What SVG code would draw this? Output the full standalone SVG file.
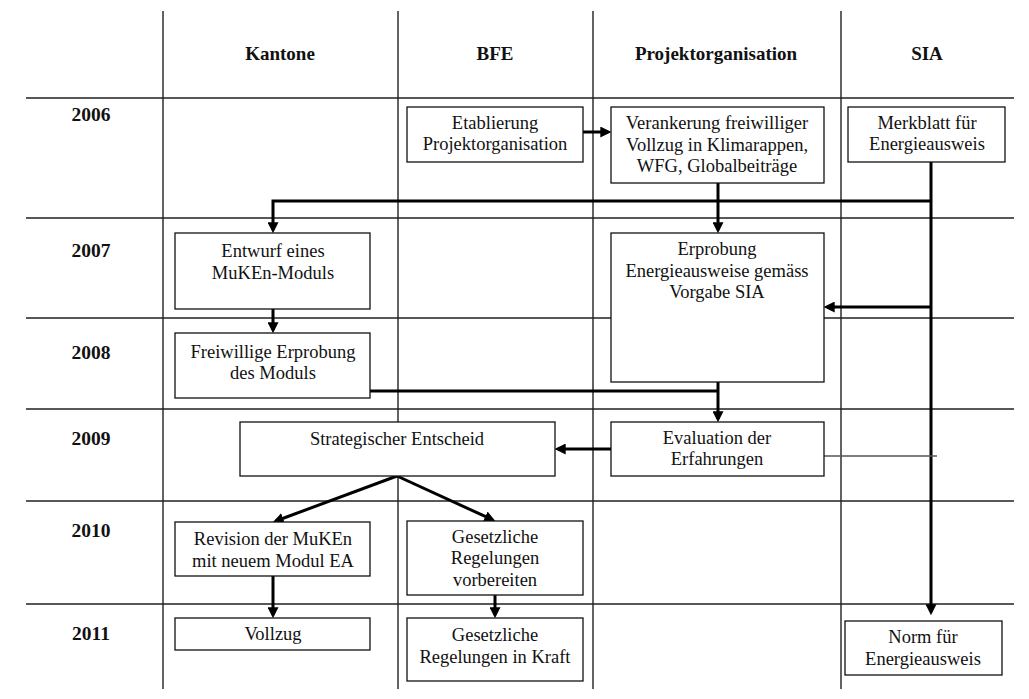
<svg xmlns="http://www.w3.org/2000/svg" width="1029" height="699" viewBox="0 0 1029 699">
<defs>
<style>
.grid{stroke:#222;stroke-width:1.4;fill:none}
.box{fill:#fff;stroke:#111;stroke-width:1.3}
.t{font-family:"Liberation Serif","Times New Roman",serif;font-size:18.5px;fill:#111;text-anchor:middle}
.h{font-family:"Liberation Serif","Times New Roman",serif;font-size:19px;font-weight:bold;fill:#111;text-anchor:middle}
.y{font-family:"Liberation Serif","Times New Roman",serif;font-size:19.5px;font-weight:bold;fill:#111;text-anchor:middle}
.c{stroke:#000;stroke-width:3;fill:none}
.ca{stroke:#000;stroke-width:3;fill:none;marker-end:url(#ah)}
.thin{stroke:#555;stroke-width:1.5;fill:none}
</style>
<marker id="ah" markerUnits="userSpaceOnUse" markerWidth="11" markerHeight="11" refX="7" refY="5" orient="auto" viewBox="0 0 10 10">
<path d="M0,0 L10,5 L0,10 z" fill="#000"/>
</marker>
</defs>
<rect width="1029" height="699" fill="#fff"/>
<g id="grid">
<path class="grid" d="M163 11V689M398 11V689M593 11V689M841 11V689"/>
<path class="grid" d="M26 98H1014M26 218H1014M26 318H1014M26 409H1014M26 501H1014M26 604H1014"/>
</g>
<g id="headers">
<text class="h" x="280" y="60">Kantone</text>
<text class="h" x="495" y="60">BFE</text>
<text class="h" x="716" y="60">Projektorganisation</text>
<text class="h" x="927" y="60">SIA</text>
</g>
<g id="years">
<text class="y" x="91" y="121">2006</text>
<text class="y" x="91" y="257">2007</text>
<text class="y" x="91" y="359">2008</text>
<text class="y" x="91" y="445">2009</text>
<text class="y" x="91" y="537">2010</text>
<text class="y" x="91" y="640">2011</text>
</g>
<g id="connectors">
<path class="ca" d="M583 132H608"/>
<path class="ca" d="M718 183V230"/>
<path class="c" d="M931 162V201"/>
<path class="ca" d="M931 201V612"/>
<path class="ca" d="M931 201H273V230"/>
<path class="ca" d="M931 307H827"/>
<path class="ca" d="M273 309V330"/>
<path class="c" d="M370 391H718"/>
<path class="ca" d="M718 382V419"/>
<path class="ca" d="M611 449H558"/>
<path class="ca" d="M397 476L275.8 521"/>
<path class="ca" d="M397 476L492.3 519.7"/>
<path class="ca" d="M273 576V615"/>
<path class="ca" d="M495 595V615"/>
<path class="thin" d="M824 456H937"/>
</g>
<g id="n-etablierung">
<rect class="box" x="407" y="107" width="176" height="55"/>
<text class="t" x="495" y="129">Etablierung</text>
<text class="t" x="495" y="150">Projektorganisation</text>
</g>
<g id="n-verankerung">
<rect class="box" x="611" y="107" width="213" height="76"/>
<text class="t" x="717" y="129">Verankerung freiwilliger</text>
<text class="t" x="717" y="151">Vollzug in Klimarappen,</text>
<text class="t" x="717" y="172">WFG, Globalbeiträge</text>
</g>
<g id="n-merkblatt">
<rect class="box" x="848" y="107" width="157" height="55"/>
<text class="t" x="927" y="129">Merkblatt für</text>
<text class="t" x="927" y="150">Energieausweis</text>
</g>
<g id="n-entwurf">
<rect class="box" x="175" y="233" width="195" height="76"/>
<text class="t" x="273" y="257">Entwurf eines</text>
<text class="t" x="273" y="279">MuKEn-Moduls</text>
</g>
<g id="n-erprobung">
<rect class="box" x="611" y="233" width="213" height="149"/>
<text class="t" x="717" y="255">Erprobung</text>
<text class="t" x="717" y="277">Energieausweise gemäss</text>
<text class="t" x="717" y="298">Vorgabe SIA</text>
</g>
<g id="n-freiwillige">
<rect class="box" x="175" y="333" width="195" height="65"/>
<text class="t" x="273" y="358">Freiwillige Erprobung</text>
<text class="t" x="273" y="379">des Moduls</text>
</g>
<g id="n-strategischer">
<rect class="box" x="240" y="422" width="315" height="54"/>
<text class="t" x="397" y="445">Strategischer Entscheid</text>
</g>
<g id="n-evaluation">
<rect class="box" x="611" y="422" width="213" height="54"/>
<text class="t" x="717" y="444">Evaluation der</text>
<text class="t" x="717" y="465">Erfahrungen</text>
</g>
<g id="n-revision">
<rect class="box" x="175" y="522" width="195" height="54"/>
<text class="t" x="273" y="545">Revision der MuKEn</text>
<text class="t" x="273" y="567">mit neuem Modul EA</text>
</g>
<g id="n-gesetz-vorb">
<rect class="box" x="407" y="521" width="176" height="74"/>
<text class="t" x="495" y="543">Gesetzliche</text>
<text class="t" x="495" y="564">Regelungen</text>
<text class="t" x="495" y="586">vorbereiten</text>
</g>
<g id="n-vollzug">
<rect class="box" x="175" y="618" width="195" height="32"/>
<text class="t" x="273" y="640">Vollzug</text>
</g>
<g id="n-gesetz-kraft">
<rect class="box" x="407" y="618" width="176" height="63"/>
<text class="t" x="495" y="641">Gesetzliche</text>
<text class="t" x="495" y="663">Regelungen in Kraft</text>
</g>
<g id="n-norm">
<rect class="box" x="845" y="621" width="157" height="54"/>
<text class="t" x="923" y="643">Norm für</text>
<text class="t" x="923" y="665">Energieausweis</text>
</g>
</svg>
